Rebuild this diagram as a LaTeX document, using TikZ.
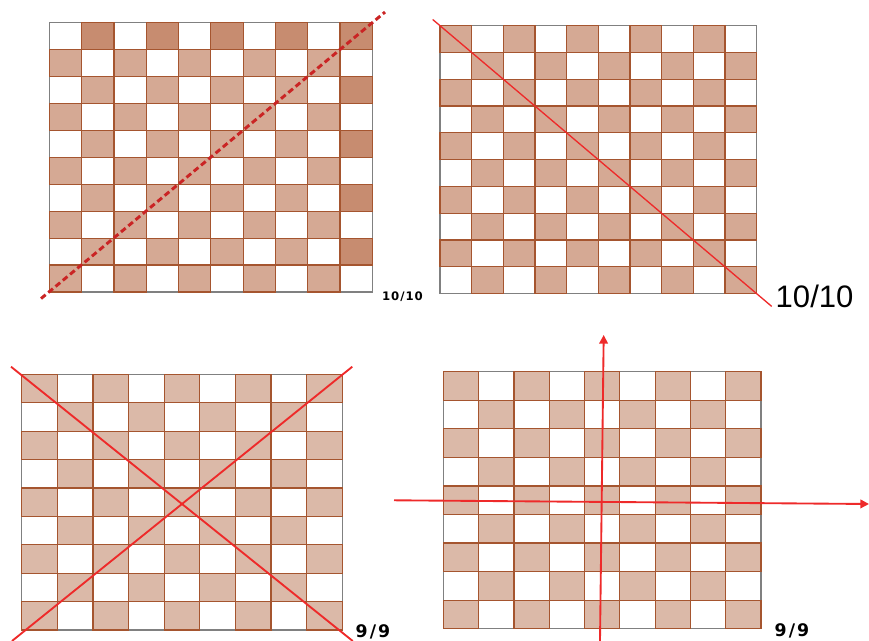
\documentclass[tikz,border=0pt]{standalone}
\usepackage{fontspec}
\newfontfamily\tagfont[LetterSpace=8]{DejaVu Sans}
\newfontfamily\ninefont[LetterSpace=12]{DejaVu Sans}
\newfontfamily\bigfont{Liberation Sans}
\usetikzlibrary{arrows.meta}
\definecolor{tanlight}{HTML}{D5A994}
\definecolor{tanpale}{HTML}{DBB9A8}
\definecolor{tandark}{HTML}{C78C70}
\definecolor{gridbrown}{HTML}{A5552F}
\definecolor{cutred}{HTML}{EE2A2A}
\tikzset{
  frame/.style={draw=gray, line width=0.9pt},
  cell/.style={fill=tanlight, draw=gridbrown, line width=0.9pt},
  cut/.style={draw=cutred, line width=1.4pt},
  smalltag/.style={font=\tagfont\bfseries\fontsize{8.8}{10}\selectfont},
  bigtag/.style={font=\ninefont\bfseries\fontsize{13}{15}\selectfont}
}

\begin{document}
\begin{tikzpicture}[x=0.75pt, y=-0.75pt, >={Triangle[length=6.5pt, width=6.5pt]}]
    \useasboundingbox (0,0) rectangle (869,641);

    % board 1: 10x10, dashed diagonal
    \begin{scope}[shift={(49.3,22.7)}]
        \draw[frame] (0,0) rectangle (323,269.3);
        \foreach \r in {0,...,9}
            \foreach \c in {0,...,9} {
                \pgfmathtruncatemacro\odd{mod(\r+\c,2)}
                \pgfmathtruncatemacro\edge{(\r==0)||(\c==9)}
                \ifnum\odd=1
                    \ifnum\edge=1
                        \filldraw[cell, fill=tandark] (\c*32.3,\r*26.93) rectangle ++(32.3,26.93);
                    \else
                        \filldraw[cell] (\c*32.3,\r*26.93) rectangle ++(32.3,26.93);
                    \fi
                \fi
            }
    \end{scope}
    \coordinate (d1s) at (41,298.6);
    \coordinate (d1e) at (385,12.1);
    \draw[cut, draw=cutred!85!black, line width=2.2pt, dash pattern=on 4.5pt off 2.6pt] (d1s) -- (d1e);
    \node[smalltag] (tag1) at (402.5,296.5) {10/10};

    % board 2: 10x10, falling diagonal
    \begin{scope}[shift={(440,25.7)}]
        \draw[frame] (0,0) rectangle (316.7,268);
        \foreach \r in {0,...,9}
            \foreach \c in {0,...,9} {
                \pgfmathtruncatemacro\odd{mod(\r+\c,2)}
                \ifnum\odd=0
                    \filldraw[cell] (\c*31.67,\r*26.8) rectangle ++(31.67,26.8);
                \fi
            }
    \end{scope}
    \coordinate (d2s) at (432.7,19.5);
    \coordinate (d2e) at (771.7,306.4);
    \draw[cut, line width=1pt] (d2s) -- (d2e);
    \node[font=\bigfont\fontsize{23.3}{26}\selectfont, anchor=west] (tag2) at (771,296) {10/10};

    % board 3: 9x9, both diagonals
    \begin{scope}[shift={(21.7,374.3)}]
        \draw[frame] (0,0) rectangle (320.6,255.7);
        \foreach \r in {0,...,8}
            \foreach \c in {0,...,8} {
                \pgfmathtruncatemacro\odd{mod(\r+\c,2)}
                \ifnum\odd=0
                    \filldraw[cell, fill=tanpale] (\c*35.62,\r*28.41) rectangle ++(35.62,28.41);
                \fi
            }
    \end{scope}
    \coordinate (x1s) at (11,366.7);
    \coordinate (x1e) at (352.7,641);
    \coordinate (x2s) at (12,641);
    \coordinate (x2e) at (352.3,366.7);
    \draw[cut] (x1s) -- (x1e);
    \draw[cut] (x2s) -- (x2e);
    \node[bigtag] (tag3) at (373,631.5) {9/9};

    % board 4: 9x9, axes
    \begin{scope}[shift={(443.3,371.7)}]
        \draw[frame] (0,0) rectangle (317.7,257);
        \foreach \r in {0,...,8}
            \foreach \c in {0,...,8} {
                \pgfmathtruncatemacro\odd{mod(\r+\c,2)}
                \ifnum\odd=0
                    \filldraw[cell, fill=tanpale] (\c*35.3,\r*28.56) rectangle ++(35.3,28.56);
                \fi
            }
    \end{scope}
    \coordinate (vs) at (600,641);
    \coordinate (ve) at (603.7,335);
    \coordinate (hs) at (394,500.3);
    \coordinate (he) at (869,504);
    \draw[cut, ->] (vs) -- (ve);
    \draw[cut, ->] (hs) -- (he);
    \node[bigtag] (tag4) at (792,631) {9/9};
\end{tikzpicture}
\end{document}
